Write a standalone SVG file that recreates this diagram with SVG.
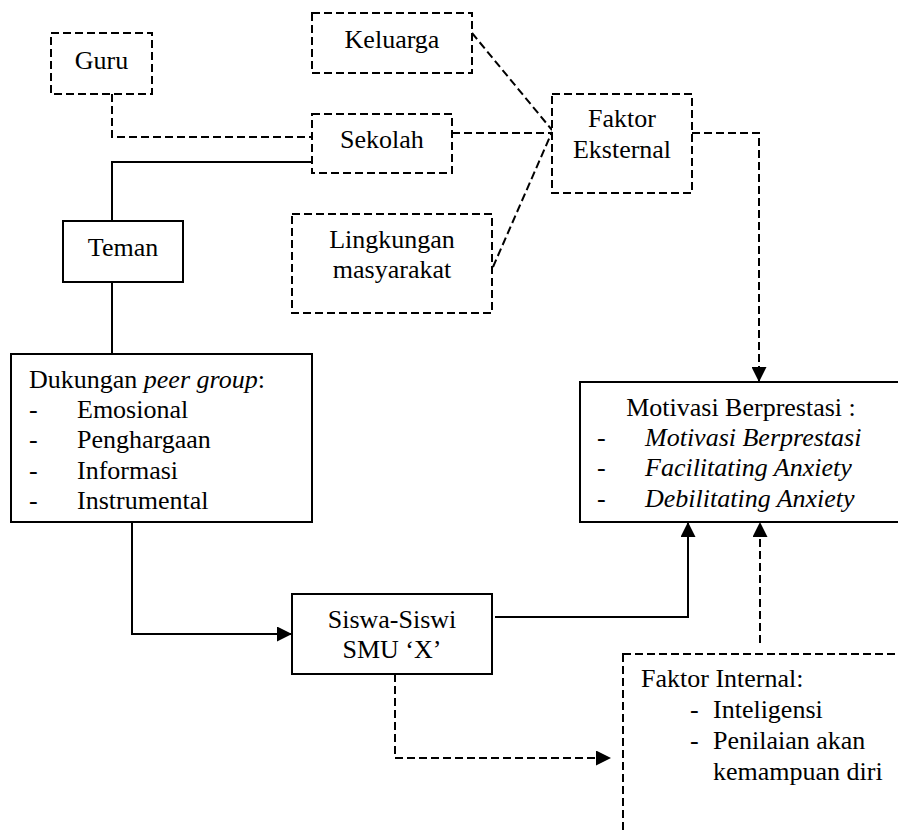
<svg xmlns="http://www.w3.org/2000/svg" width="898" height="831" viewBox="0 0 898 831">
<style>
text{font-family:"Liberation Serif","Times New Roman",serif;font-size:26px;fill:#000}
.c{text-anchor:middle}
.i{font-style:italic}
.solid{fill:#fff;stroke:#000;stroke-width:2}
.dash{fill:#fff;stroke:#000;stroke-width:2;stroke-dasharray:8 4}
.ln{fill:none;stroke:#000;stroke-width:2}
.dl{fill:none;stroke:#000;stroke-width:2;stroke-dasharray:8 4}
</style>
<defs>
<marker id="ah" viewBox="0 0 15 15" refX="15" refY="7.5" markerWidth="15" markerHeight="15" markerUnits="userSpaceOnUse" orient="auto">
<path d="M0,0 L15,7.5 L0,15 Z" fill="#000"/>
</marker>
</defs>
<rect width="898" height="831" fill="#fff"/>
<g id="connectors">
<path class="dl" d="M112,94 V137 H312"/>
<path class="ln" d="M312,162 H112 V232"/>
<path class="ln" d="M112,282 V354"/>
<path class="dl" d="M452,133 H552"/>
<path class="dl" d="M472,33 L552,130"/>
<path class="dl" d="M493,267 L552,132"/>
<path class="dl" d="M692,133 H759 V382" marker-end="url(#ah)"/>
<path class="ln" d="M132,522 V634 H292" marker-end="url(#ah)"/>
<path class="ln" d="M495,617 H688 V522" marker-end="url(#ah)"/>
<path class="dl" d="M395,674 V758 H611" marker-end="url(#ah)"/>
<path class="dl" d="M760,643 V522" marker-end="url(#ah)"/>
</g>
<g id="guru">
<rect class="dash" x="51" y="33" width="101" height="61"/>
<text class="c" x="101.5" y="69">Guru</text>
</g>
<g id="keluarga">
<rect class="dash" x="312" y="13" width="160" height="60"/>
<text class="c" x="392" y="48">Keluarga</text>
</g>
<g id="sekolah">
<rect class="dash" x="312" y="114" width="140" height="59"/>
<text class="c" x="382" y="148">Sekolah</text>
</g>
<g id="lingkungan">
<rect class="dash" x="292" y="214" width="200" height="99"/>
<text class="c" x="392" y="248">Lingkungan</text>
<text class="c" x="392" y="278">masyarakat</text>
</g>
<g id="faktor-eksternal">
<rect class="dash" x="552" y="94" width="140" height="99"/>
<text class="c" x="622" y="127">Faktor</text>
<text class="c" x="622" y="158">Eksternal</text>
</g>
<g id="teman">
<rect class="solid" x="63" y="221" width="120" height="61"/>
<text class="c" x="123" y="256">Teman</text>
</g>
<g id="dukungan">
<rect class="solid" x="11" y="354" width="301" height="168"/>
<text x="29" y="388">Dukungan <tspan class="i">peer group</tspan>:</text>
<text x="29" y="418">-</text><text x="77" y="418">Emosional</text>
<text x="29" y="448">-</text><text x="77" y="448">Penghargaan</text>
<text x="29" y="479">-</text><text x="77" y="479">Informasi</text>
<text x="29" y="509">-</text><text x="77" y="509">Instrumental</text>
</g>
<g id="motivasi">
<rect class="solid" x="580" y="382" width="340" height="140"/>
<text class="c" x="741" y="416">Motivasi Berprestasi :</text>
<text x="597" y="446">-</text><text class="i" x="645" y="446">Motivasi Berprestasi</text>
<text x="597" y="476">-</text><text class="i" x="645" y="476">Facilitating Anxiety</text>
<text x="597" y="507">-</text><text class="i" x="645" y="507">Debilitating Anxiety</text>
</g>
<g id="siswa">
<rect class="solid" x="292" y="594" width="200" height="80"/>
<text class="c" x="392" y="628">Siswa-Siswi</text>
<text class="c" x="392" y="658">SMU ‘X’</text>
</g>
<g id="faktor-internal">
<rect class="dash" x="623" y="654" width="300" height="220"/>
<text x="641" y="687">Faktor Internal:</text>
<text x="690" y="718">-</text><text x="713" y="718">Inteligensi</text>
<text x="690" y="749">-</text><text x="713" y="749">Penilaian akan</text>
<text x="713" y="780">kemampuan diri</text>
</g>
</svg>
